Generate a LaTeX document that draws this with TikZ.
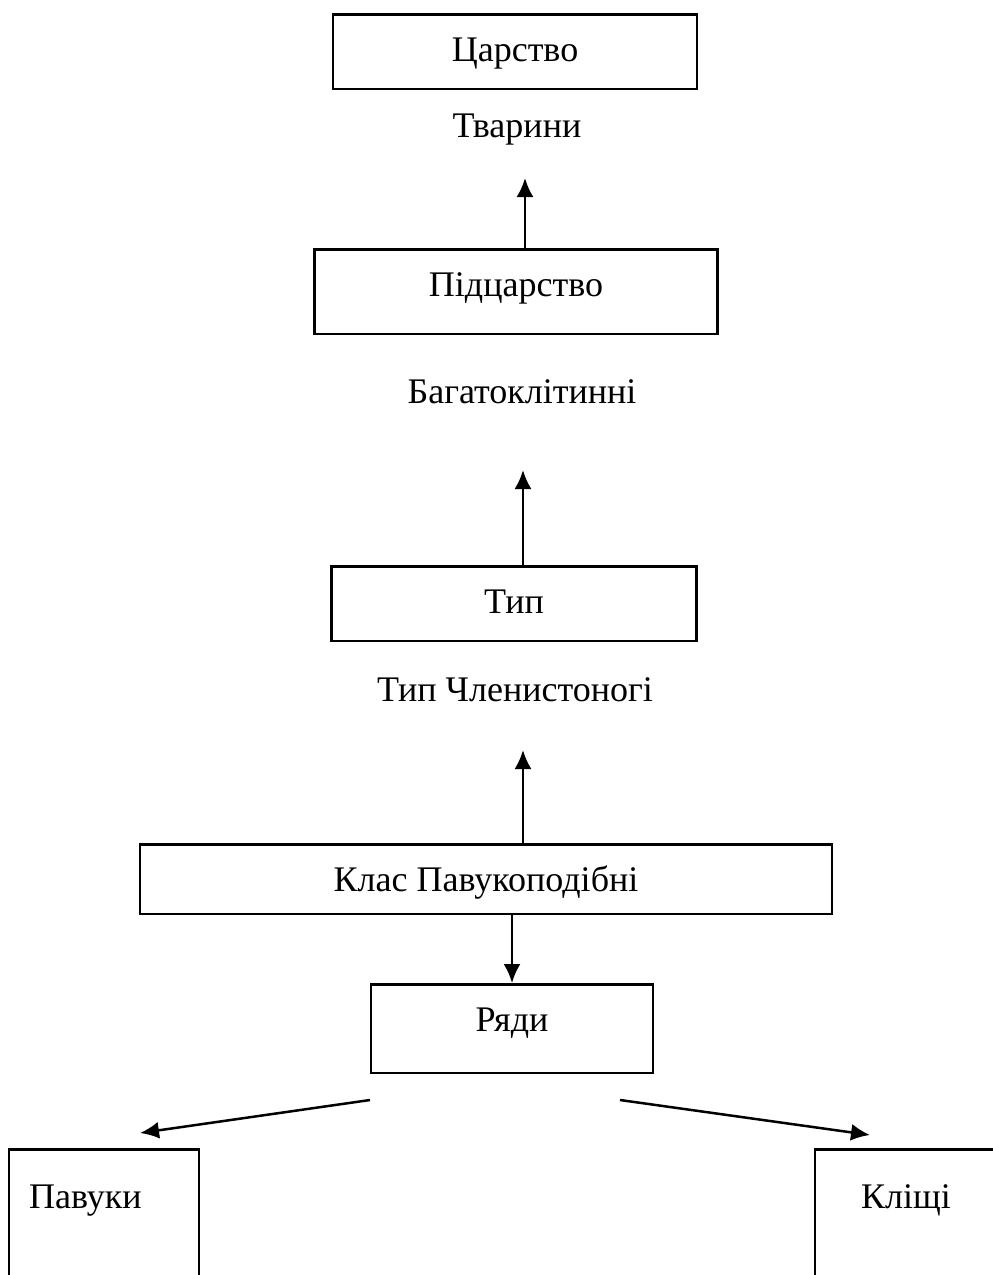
\documentclass[tikz,border=0pt]{standalone}
\usepackage{fontspec}
\setmainfont{Liberation Serif}
\usetikzlibrary{arrows.meta}
\tikzset{
  box/.style={draw, line width=0.05cm, inner sep=0pt, anchor=north, text height=0.95cm},
  lbl/.style={inner sep=0pt},
}
\begin{document}
\begin{tikzpicture}[x=0.02cm, y=-0.02cm, >={Latex[length=0.38cm,width=0.34cm]}, line width=0.05cm, font=\fontsize{20.5}{24}\selectfont]
\clip (0,0) rectangle (993,1275);
\useasboundingbox (0,0) rectangle (993,1275);

\node[box, minimum width=7.28cm, text depth=0.55cm] (kingdom) at (515,13) {Царство};
\node[lbl] (animals) at (517,130) {Тварини};
\node[box, minimum width=8.06cm, text depth=0.75cm] (subkingdom) at (516,248) {Підцарство};
\node[lbl] (multi) at (522,392) {Багатоклітинні};
\node[box, minimum width=7.3cm, text depth=0.55cm] (phylum) at (514,565) {Тип};
\node[lbl] (arthro) at (515,690) {Тип Членистоногі};
\node[box, minimum width=13.84cm, text depth=0.45cm] (class) at (486,843) {Клас Павукоподібні};
\node[box, minimum width=5.64cm, text depth=0.83cm] (orders) at (512,983) {Ряди};
\node[box, text width=3cm, align=left, inner xsep=0.4cm, text height=1.19cm, text depth=3cm] (spiders) at (104,1148) {Павуки};
\node[box, minimum width=3.64cm, text height=1.19cm, text depth=3cm] (mites) at (906,1148) {Кліщі};

% arrows
\coordinate (t1) at (525,178);
\coordinate (t2) at (523,470);
\coordinate (t3) at (523,750);
\coordinate (l0) at (370,1100);
\coordinate (l1) at (140,1133);
\coordinate (r0) at (620,1100);
\coordinate (r1) at (870,1135);
\draw[->] (subkingdom.north -| t1) -- (t1);
\draw[->] (phylum.north -| t2) -- (t2);
\draw[->] (class.north -| t3) -- (t3);
\draw[->] (class.south -| orders.north) -- (orders.north);
\draw[->] (l0) -- (l1);
\draw[->] (r0) -- (r1);
\end{tikzpicture}
\end{document}
